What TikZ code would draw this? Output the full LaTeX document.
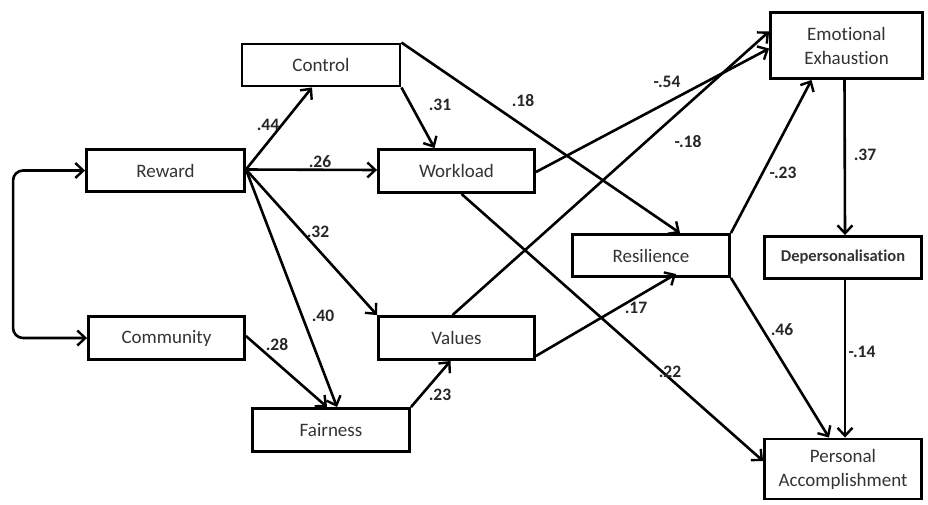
\documentclass[tikz,border=0pt]{standalone}
\usepackage{fontspec}
\setmainfont[Ligatures=NoCommon]{Carlito}
\usetikzlibrary{arrows.meta}
\begin{document}
\begin{tikzpicture}[x=1pt,y=-1pt,
  box/.style={draw, line width=2.9pt, inner sep=0pt, align=center,
    font=\fontsize{19}{22}\selectfont, text=black!80},
  arr/.style={line width=2.6pt, -{Straight Barb[length=8pt,width=15pt,line width=2.4pt]}},
  lbl/.style={font=\bfseries\fontsize{17.5}{20}\selectfont, inner sep=0pt, text=black!85}]
\useasboundingbox (0,0) rectangle (928,504);
% boxes
\node[box, minimum width=158pt, minimum height=42pt] (control) at (321,65) {Control};
\node[box, minimum width=156pt, minimum height=43pt] (workload) at (456.5,171) {Workload};
\node[box, minimum width=158pt, minimum height=42pt] (reward) at (165.5,170.5) {Reward};
\node[box, minimum width=156pt, minimum height=43pt] (community) at (166.5,338) {Community};
\node[box, minimum width=156pt, minimum height=43pt] (values) at (456.5,338) {Values};
\node[box, minimum width=157pt, minimum height=43pt] (fairness) at (331,430) {Fairness};
\node[box, minimum width=157pt, minimum height=42pt] (resilience) at (651,255.5) {Resilience};
\node[box, minimum width=152pt, minimum height=66pt] (ee) at (846.5,45.5) {Emotional\\[2pt]Exhaustion};
\node[box, minimum width=157pt, minimum height=42pt, font=\bfseries\fontsize{16.5}{20}\selectfont] (dep) at (843,257.5) {Depersonalisation};
\node[box, minimum width=157pt, minimum height=60pt] (pa) at (843,469) {Personal\\[2pt]Accomplishment};
% correlation
\draw[line width=2.6pt, rounded corners=10pt, {Straight Barb[length=8pt,width=15pt,line width=2.4pt]}-{Straight Barb[length=8pt,width=15pt,line width=2.4pt]}]
  (reward.west) -- ([xshift=-72pt]reward.west) |- (community.west);
% paths
\draw[arr] ([yshift=1pt]reward.east) -- ([xshift=-9pt]control.south);
\draw[arr] ([yshift=1pt]reward.east) -- ([yshift=1pt]workload.west);
\draw[arr] ([yshift=1pt]reward.east) -- (values.north west);
\draw[arr] ([yshift=1pt]reward.east) -- ([xshift=6pt]fairness.north);
\draw[arr] ([yshift=2pt]community.east) -- ([xshift=-4pt]fairness.north);
\draw[arr] (fairness.north east) -- ([xshift=-6pt]values.south);
\draw[arr] (control.south east) -- ([xshift=-22pt]workload.north);
\draw[arr] (control.north east) -- ([xshift=29pt]resilience.north);
\draw[arr] ([yshift=-1pt]workload.east) -- ([yshift=-3pt]ee.west);
\draw[arr] ([xshift=-4pt]values.north) -- ([yshift=14pt]ee.west);
\draw[arr] (resilience.north east) -- ([xshift=-35pt]ee.south);
\draw[arr] ([xshift=-2pt]ee.south) -- ([xshift=2pt]dep.north);
\draw[arr] ([yshift=-18pt]values.east) -- ([xshift=25pt,yshift=4pt]resilience.south);
\draw[arr] ([xshift=5pt]workload.south) -- ([yshift=8pt]pa.west);
\draw[arr] (resilience.south east) -- ([xshift=-14pt]pa.north);
\draw[arr] ([xshift=2pt]dep.south) -- ([xshift=2pt]pa.north);
% labels
\node[lbl] (l44) at (268,125) {.44};
\node[lbl] (l26) at (320,162) {.26};
\node[lbl] (l32) at (318,232) {.32};
\node[lbl] (l40) at (323,316) {.40};
\node[lbl] (l28) at (277,345) {.28};
\node[lbl] (l23a) at (440,395) {.23};
\node[lbl] (l31) at (440,105) {.31};
\node[lbl] (l18a) at (523,101) {.18};
\node[lbl] (l54) at (667,82) {-.54};
\node[lbl] (l18b) at (688,142) {-.18};
\node[lbl] (l23b) at (783,173) {-.23};
\node[lbl] (l37) at (865,155) {.37};
\node[lbl] (l17) at (636,308) {.17};
\node[lbl] (l46) at (782,330) {.46};
\node[lbl] (l14) at (862,352) {-.14};
\node[lbl] (l22) at (670,372) {.22};
\end{tikzpicture}
\end{document}
